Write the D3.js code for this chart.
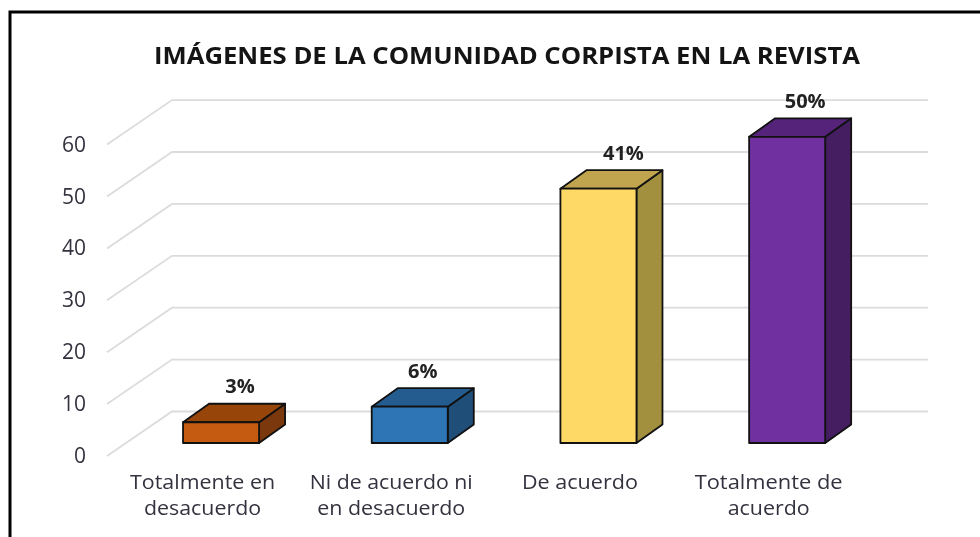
<!DOCTYPE html>
<html><head><meta charset="utf-8">
<script src="https://cdnjs.cloudflare.com/ajax/libs/d3/7.8.5/d3.min.js"></script>
<style>html,body{margin:0;padding:0;background:#fff}svg{display:block;filter:blur(0.45px)}text{font-family:"Open Sans",sans-serif}</style>
</head><body><svg id="c" width="980" height="537"></svg>
<script>
const categories = [["Totalmente en","desacuerdo"],["Ni de acuerdo ni","en desacuerdo"],["De acuerdo"],["Totalmente de","acuerdo"]];
const values = [4,7,49,59];
const percentLabels = ["3%","6%","41%","50%"];
const yTicks = [0,10,20,30,40,50,60];
const titleText = "IMÁGENES DE LA COMUNIDAD CORPISTA EN LA REVISTA";
const frontColors = ["#C55A11","#2E75B6","#FFD966","#7030A0"];
const topColors = ["#974509","#255C90","#C1A44E","#55247A"];
const sideColors = ["#7A380C","#1F4E79","#A3903F","#451E62"];
const categoryLineWidths = [[145,117],[163,148],[116],[148,82]];
const percentShift = [19,13,25,18];

const svg = d3.select("#c");
const y = d3.scaleLinear().domain([0,60]).range([443,131.6]);
const x = d3.scaleBand().domain(d3.range(categories.length)).range([126.7,881.5]).paddingInner(0.597).paddingOuter(0.2985);

// frame: open on the right and at the bottom
svg.append("path").attr("d","M10,537V12H980").attr("fill","none").attr("stroke","#000").attr("stroke-width",3);

// title
svg.append("text").attr("x",507).attr("y",64).attr("text-anchor","middle")
  .attr("font-size",24).attr("font-weight",700).attr("fill","#141414")
  .attr("textLength",706).attr("lengthAdjust","spacingAndGlyphs").text(titleText);

// grid
const gridBack = -31.5, gridFront = 13, gridL = 172, gridR = 928, gridFL = 107;
svg.append("g").selectAll("path").data(yTicks).join("path")
  .attr("d",d=>`M${gridFL},${y(d)+gridFront}L${gridL},${y(d)+gridBack}H${gridR}`)
  .attr("fill","none").attr("stroke","#dcdcdc").attr("stroke-width",1.8);

// y tick labels
svg.append("g").selectAll("text").data(yTicks).join("text")
  .attr("x",86).attr("y",d=>y(d)+20).attr("text-anchor","end")
  .attr("font-size",21).attr("fill","#33333f").text(d=>d);

// bars
const dx = 26, dy = 18.5, w = x.bandwidth();
const bars = svg.append("g").selectAll("g").data(values).join("g")
  .attr("stroke","#111").attr("stroke-width",1.8).attr("stroke-linejoin","round");
bars.append("path").attr("fill",(d,i)=>sideColors[i])
  .attr("d",(d,i)=>{const r=x(i)+w,t=y(d),b=y(0);return `M${r},${t}l${dx},${-dy}V${b-dy}L${r},${b}Z`;});
bars.append("path").attr("fill",(d,i)=>topColors[i])
  .attr("d",(d,i)=>{const l=x(i),t=y(d);return `M${l},${t}l${dx},${-dy}h${w}l${-dx},${dy}Z`;});
bars.append("rect").attr("fill",(d,i)=>frontColors[i])
  .attr("x",(d,i)=>x(i)).attr("y",d=>y(d)).attr("width",w).attr("height",d=>y(0)-y(d));

// percent labels
svg.append("g").selectAll("text").data(values).join("text")
  .attr("x",(d,i)=>x(i)+w/2+percentShift[i]).attr("y",d=>y(d)-29)
  .attr("text-anchor","middle").attr("font-size",20).attr("font-weight",700).attr("fill","#222")
  .text((d,i)=>percentLabels[i]);

// category labels
const catShift = -18.5, catBase = 489, catLead = 26;
const lines = categories.flatMap((c,i)=>c.map((s,j)=>({s,i,j})));
svg.append("g").selectAll("text").data(lines).join("text")
  .attr("x",d=>x(d.i)+w/2+catShift).attr("y",d=>catBase+d.j*catLead)
  .attr("text-anchor","middle").attr("font-size",19.5).attr("fill","#33333f")
  .attr("textLength",d=>categoryLineWidths[d.i][d.j]).attr("lengthAdjust","spacingAndGlyphs")
  .text(d=>d.s);
</script></body></html>
